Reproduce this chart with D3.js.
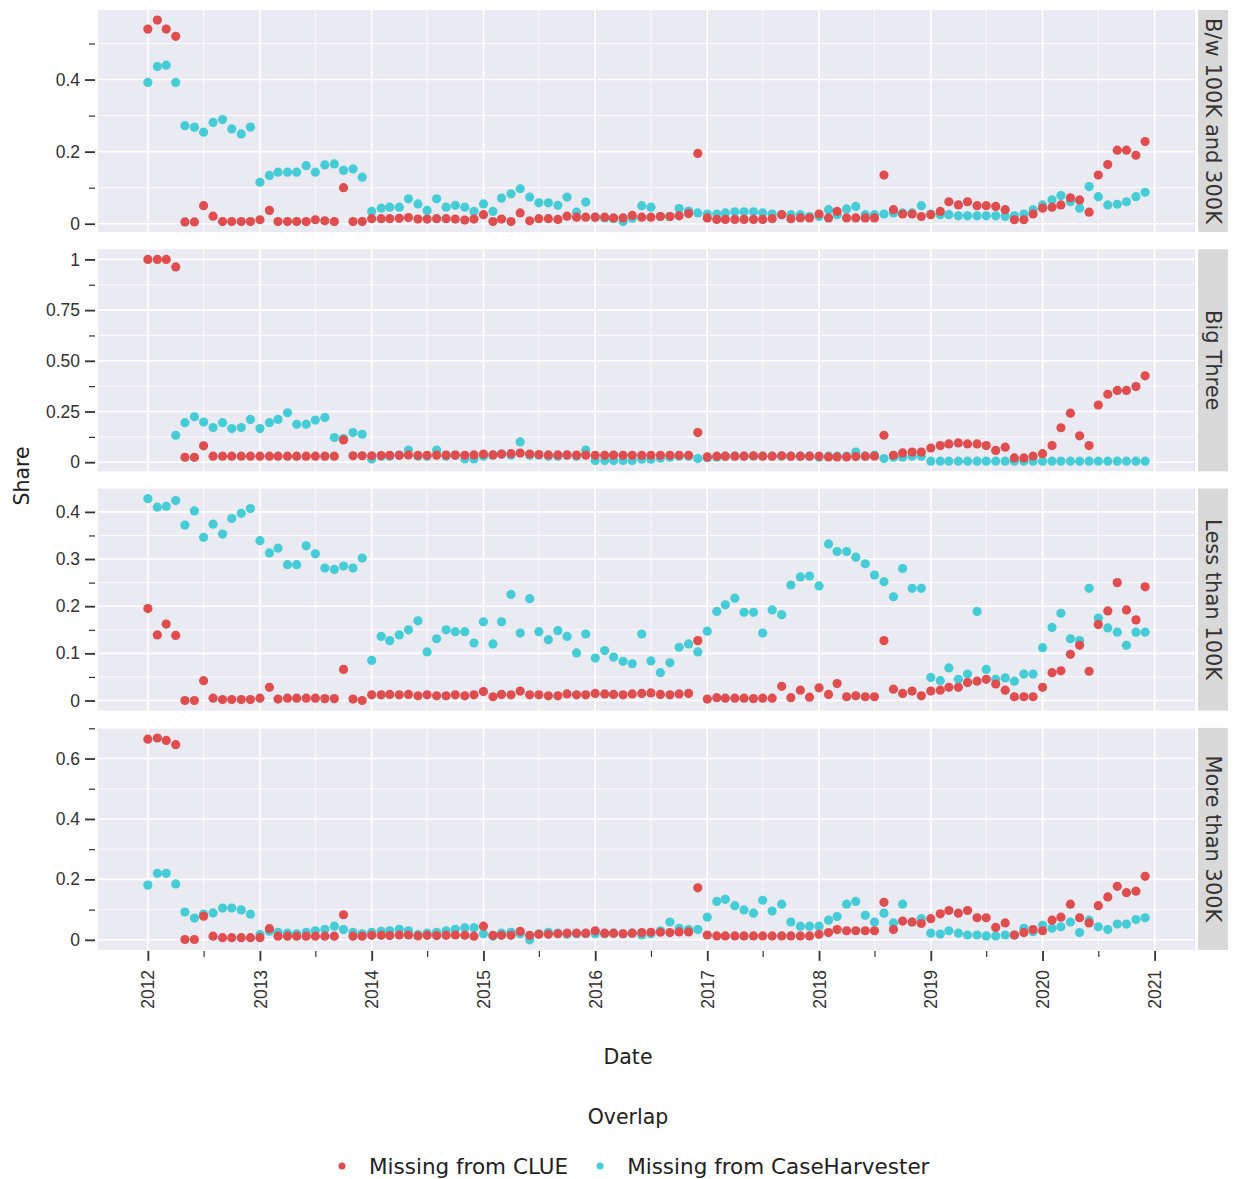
<!DOCTYPE html>
<html>
<head>
<meta charset="utf-8">
<title>Share missing by overlap</title>
<script src="https://cdn.jsdelivr.net/npm/d3@7"></script>
<style>
    body { margin: 0; background: #fff; }
    svg { font-family: "DejaVu Sans", sans-serif; }
    .axis text { font-size: 17.5px; fill: #333; }
    .axis line { stroke: #333; }
    .axis path { display: none; }
    .strip-label { font-size: 21px; fill: #333; }
    .graphLabels { font-size: 20.5px; fill: #222; }
    .legend-label { font-size: 21.5px; fill: #222; }
</style>
</head>
<body>
<div id="chart"></div>
<script>

// ---- data (monthly, 2012-01 .. 2020-12) ----
var months = d3.timeMonth.range(new Date(2012, 0, 1), new Date(2021, 0, 1));

var facetNames = ["B/w 100K and 300K", "Big Three", "Less than 100K", "More than 300K"];
var seriesNames = ["Missing from CLUE", "Missing from CaseHarvester"];

var clueBw = [0.54, 0.565, 0.54, 0.52, 0.005, 0.005, 0.05, 0.021, 0.006, 0.006, 0.006, 0.006,
    0.011, 0.037, 0.006, 0.006, 0.006, 0.006, 0.011, 0.008, 0.006, 0.10, 0.006, 0.006,
    0.014, 0.014, 0.014, 0.015, 0.017, 0.013, 0.013, 0.014, 0.014, 0.013, 0.010, 0.013,
    0.025, 0.006, 0.013, 0.006, 0.030, 0.008, 0.014, 0.014, 0.012, 0.021, 0.018, 0.018,
    0.018, 0.018, 0.016, 0.016, 0.023, 0.018, 0.018, 0.020, 0.020, 0.022, 0.028, 0.195,
    0.016, 0.012, 0.012, 0.012, 0.012, 0.012, 0.012, 0.014, 0.025, 0.014, 0.016, 0.016,
    0.027, 0.016, 0.034, 0.016, 0.016, 0.016, 0.016, 0.135, 0.039, 0.027, 0.027, 0.020,
    0.025, 0.034, 0.061, 0.052, 0.061, 0.050, 0.050, 0.048, 0.039, 0.011, 0.011, 0.027,
    0.043, 0.046, 0.052, 0.072, 0.066, 0.032, 0.135, 0.164, 0.204, 0.204, 0.190, 0.228];

var harvBw = [0.392, 0.436, 0.440, 0.392, 0.272, 0.268, 0.254, 0.281, 0.289, 0.263, 0.249, 0.268,
    0.115, 0.134, 0.143, 0.143, 0.143, 0.161, 0.143, 0.163, 0.166, 0.148, 0.152, 0.129,
    0.034, 0.043, 0.046, 0.046, 0.069, 0.055, 0.037, 0.069, 0.046, 0.051, 0.046, 0.034,
    0.055, 0.034, 0.071, 0.083, 0.097, 0.074, 0.058, 0.058, 0.051, 0.074, 0.032, 0.060,
    0.018, 0.016, 0.014, 0.006, 0.015, 0.050, 0.046, 0.020, 0.020, 0.042, 0.035, 0.030,
    0.027, 0.027, 0.030, 0.033, 0.033, 0.033, 0.030, 0.027, 0.025, 0.025, 0.025, 0.020,
    0.020, 0.039, 0.025, 0.041, 0.048, 0.025, 0.025, 0.027, 0.030, 0.030, 0.030, 0.050,
    0.027, 0.025, 0.025, 0.022, 0.022, 0.022, 0.022, 0.022, 0.020, 0.022, 0.027, 0.039,
    0.052, 0.066, 0.078, 0.061, 0.043, 0.103, 0.075, 0.052, 0.054, 0.061, 0.075, 0.087];

var clueBig = [1, 1, 1, 0.963, 0.024, 0.024, 0.081, 0.030, 0.030, 0.030, 0.030, 0.030,
    0.030, 0.030, 0.030, 0.030, 0.030, 0.030, 0.030, 0.030, 0.030, 0.110, 0.032, 0.032,
    0.032, 0.033, 0.034, 0.034, 0.036, 0.034, 0.034, 0.035, 0.035, 0.035, 0.034, 0.036,
    0.040, 0.036, 0.040, 0.042, 0.045, 0.040, 0.038, 0.036, 0.036, 0.036, 0.035, 0.035,
    0.034, 0.034, 0.035, 0.034, 0.034, 0.034, 0.034, 0.034, 0.034, 0.034, 0.034, 0.146,
    0.026, 0.030, 0.030, 0.030, 0.030, 0.032, 0.030, 0.030, 0.032, 0.030, 0.030, 0.030,
    0.030, 0.026, 0.026, 0.026, 0.028, 0.030, 0.030, 0.133, 0.034, 0.046, 0.050, 0.050,
    0.070, 0.082, 0.090, 0.095, 0.090, 0.090, 0.082, 0.058, 0.074, 0.021, 0.021, 0.030,
    0.042, 0.082, 0.170, 0.242, 0.130, 0.082, 0.282, 0.335, 0.354, 0.354, 0.373, 0.426];

var harvBig = [null, null, null, 0.133, 0.195, 0.224, 0.198, 0.171, 0.195, 0.166, 0.171, 0.211,
    0.166, 0.195, 0.211, 0.244, 0.187, 0.187, 0.208, 0.220, 0.122, 0.117, 0.146, 0.138,
    0.016, 0.030, 0.030, 0.035, 0.060, 0.030, 0.030, 0.060, 0.030, 0.035, 0.016, 0.016,
    0.030, 0.035, 0.040, 0.035, 0.100, 0.035, 0.035, 0.030, 0.030, 0.035, 0.030, 0.060,
    0.008, 0.008, 0.008, 0.008, 0.008, 0.015, 0.015, 0.020, 0.025, 0.030, 0.030, 0.018,
    0.022, 0.025, 0.030, 0.030, 0.030, 0.030, 0.030, 0.030, 0.030, 0.030, 0.030, 0.030,
    0.025, 0.030, 0.030, 0.030, 0.050, 0.030, 0.035, 0.018, 0.025, 0.025, 0.030, 0.030,
    0.005, 0.005, 0.005, 0.005, 0.005, 0.005, 0.005, 0.005, 0.005, 0.005, 0.005, 0.005,
    0.005, 0.005, 0.005, 0.005, 0.005, 0.005, 0.005, 0.005, 0.005, 0.005, 0.005, 0.005];

var clueLess = [0.195, 0.139, 0.162, 0.138, 0.000, 0.000, 0.042, 0.005, 0.002, 0.002, 0.002, 0.002,
    0.005, 0.028, 0.003, 0.005, 0.005, 0.005, 0.005, 0.004, 0.004, 0.066, 0.003, 0.000,
    0.012, 0.012, 0.013, 0.012, 0.013, 0.010, 0.012, 0.010, 0.010, 0.012, 0.010, 0.012,
    0.019, 0.008, 0.013, 0.012, 0.020, 0.012, 0.012, 0.010, 0.010, 0.014, 0.012, 0.012,
    0.015, 0.014, 0.013, 0.012, 0.014, 0.015, 0.016, 0.013, 0.012, 0.014, 0.015, 0.127,
    0.003, 0.006, 0.005, 0.005, 0.005, 0.004, 0.005, 0.005, 0.030, 0.006, 0.022, 0.007,
    0.027, 0.013, 0.036, 0.008, 0.010, 0.008, 0.008, 0.127, 0.024, 0.015, 0.020, 0.010,
    0.020, 0.022, 0.028, 0.028, 0.038, 0.041, 0.045, 0.035, 0.022, 0.008, 0.008, 0.008,
    0.028, 0.059, 0.063, 0.098, 0.117, 0.062, 0.161, 0.190, 0.250, 0.192, 0.171, 0.241];

var harvLess = [0.428, 0.410, 0.412, 0.424, 0.372, 0.402, 0.346, 0.374, 0.353, 0.386, 0.397, 0.407,
    0.339, 0.313, 0.323, 0.288, 0.288, 0.328, 0.311, 0.281, 0.278, 0.285, 0.281, 0.302,
    0.085, 0.136, 0.127, 0.139, 0.150, 0.169, 0.103, 0.131, 0.150, 0.146, 0.146, 0.122,
    0.167, 0.120, 0.167, 0.225, 0.143, 0.216, 0.146, 0.129, 0.148, 0.136, 0.101, 0.141,
    0.090, 0.106, 0.092, 0.083, 0.078, 0.141, 0.084, 0.059, 0.080, 0.113, 0.120, 0.103,
    0.147, 0.189, 0.203, 0.217, 0.187, 0.187, 0.143, 0.192, 0.182, 0.245, 0.262, 0.264,
    0.243, 0.332, 0.316, 0.316, 0.304, 0.290, 0.266, 0.252, 0.220, 0.280, 0.238, 0.238,
    0.049, 0.042, 0.069, 0.045, 0.056, 0.189, 0.066, 0.045, 0.048, 0.041, 0.056, 0.056,
    0.112, 0.155, 0.185, 0.131, 0.127, 0.238, 0.175, 0.154, 0.145, 0.117, 0.145, 0.145];

var clueMore = [0.664, 0.668, 0.660, 0.646, 0.001, 0.001, 0.078, 0.012, 0.007, 0.007, 0.007, 0.007,
    0.007, 0.037, 0.012, 0.012, 0.012, 0.012, 0.012, 0.012, 0.012, 0.083, 0.012, 0.012,
    0.015, 0.015, 0.014, 0.016, 0.016, 0.013, 0.015, 0.014, 0.015, 0.016, 0.015, 0.012,
    0.045, 0.015, 0.015, 0.015, 0.028, 0.015, 0.018, 0.018, 0.020, 0.022, 0.022, 0.022,
    0.030, 0.022, 0.022, 0.020, 0.022, 0.024, 0.025, 0.025, 0.024, 0.026, 0.026, 0.172,
    0.016, 0.013, 0.013, 0.013, 0.013, 0.013, 0.013, 0.013, 0.013, 0.013, 0.013, 0.013,
    0.018, 0.024, 0.034, 0.030, 0.030, 0.030, 0.030, 0.124, 0.034, 0.062, 0.059, 0.054,
    0.070, 0.086, 0.097, 0.088, 0.097, 0.073, 0.073, 0.041, 0.056, 0.016, 0.024, 0.034,
    0.030, 0.065, 0.075, 0.118, 0.073, 0.056, 0.113, 0.142, 0.177, 0.156, 0.161, 0.210];

var harvMore = [0.181, 0.220, 0.220, 0.185, 0.092, 0.072, 0.085, 0.089, 0.105, 0.105, 0.099, 0.085,
    0.017, 0.028, 0.025, 0.022, 0.020, 0.025, 0.030, 0.035, 0.045, 0.034, 0.025, 0.020,
    0.025, 0.028, 0.030, 0.035, 0.030, 0.017, 0.022, 0.025, 0.030, 0.035, 0.040, 0.040,
    0.020, 0.012, 0.022, 0.025, 0.020, 0.000, 0.020, 0.025, 0.022, 0.018, 0.020, 0.020,
    0.020, 0.020, 0.022, 0.020, 0.022, 0.016, 0.020, 0.030, 0.059, 0.038, 0.034, 0.034,
    0.075, 0.127, 0.134, 0.113, 0.099, 0.088, 0.131, 0.095, 0.118, 0.059, 0.045, 0.045,
    0.045, 0.065, 0.077, 0.118, 0.127, 0.081, 0.059, 0.088, 0.056, 0.118, 0.059, 0.070,
    0.022, 0.019, 0.030, 0.022, 0.016, 0.016, 0.013, 0.013, 0.016, 0.016, 0.038, 0.027,
    0.048, 0.038, 0.043, 0.059, 0.024, 0.065, 0.043, 0.034, 0.052, 0.052, 0.067, 0.073];

// y tick values and their labels, one list per facet
var yTicksBw = [0, 0.2, 0.4];
var yLabelsBw = ["0", "0.2", "0.4"];
var yTicksBig = [0, 0.25, 0.5, 0.75, 1];
var yLabelsBig = ["0", "0.25", "0.50", "0.75", "1"];
var yTicksLess = [0, 0.1, 0.2, 0.3, 0.4];
var yLabelsLess = ["0", "0.1", "0.2", "0.3", "0.4"];
var yTicksMore = [0, 0.2, 0.4, 0.6];
var yLabelsMore = ["0", "0.2", "0.4", "0.6"];

var xYears = d3.range(2012, 2022);

// ---- layout ----
var seriesColors = ["#df4d4f", "#45ccd6"];
var width = 1233, height = 1179;
var margin = { top: 10, left: 98 };
var panelW = 1097, panelH = 222, panelStep = 239.3;
var stripGap = 3, stripW = 30;

var svg = d3.select("#chart").append("svg")
    .attr("width", width)
    .attr("height", height);

// shared date scale, expanded by 5% on each side
var xPad = (months[months.length - 1] - months[0]) * 0.05;
var x = d3.scaleTime()
    .domain([new Date(+months[0] - xPad), new Date(+months[months.length - 1] + xPad)])
    .range([0, panelW]);

var majorDates = xYears.map(function(y){ return new Date(y, 0, 1); });
var minorDates = xYears.map(function(y){ return new Date(y, 6, 1); })
    .filter(function(d){ return d >= x.domain()[0] && d <= x.domain()[1]; });


/*
 * FacetPanel - one small multiple
 */

FacetPanel = function(_index, _name, _clue, _harv, _ticks, _labels){
    this.index = _index;
    this.name = _name;
    this.clue = _clue;
    this.harv = _harv;
    this.ticks = _ticks;
    this.labels = _labels;
    this.initVis();
}

FacetPanel.prototype.initVis = function(){
    var vis = this;

    vis.top = margin.top + vis.index * panelStep;

    vis.g = svg.append("g")
        .attr("transform", "translate(" + margin.left + "," + vis.top + ")");

    vis.g.append("rect")
        .attr("width", panelW)
        .attr("height", panelH)
        .attr("fill", "#eaeaf2");

    // strip on the right
    vis.g.append("rect")
        .attr("x", panelW + stripGap)
        .attr("width", stripW)
        .attr("height", panelH)
        .attr("fill", "#d9d9d9");

    vis.g.append("text")
        .attr("class", "strip-label")
        .attr("transform", "translate(" + (panelW + stripGap + stripW / 2) + "," + (panelH / 2) + ") rotate(90)")
        .attr("text-anchor", "middle")
        .attr("dominant-baseline", "central")
        .text(vis.name);

    vis.y = d3.scaleLinear().range([panelH, 0]);

    vis.wrangleData();
}

FacetPanel.prototype.wrangleData = function(){
    var vis = this;

    vis.displayData = [];
    // CaseHarvester first so the CLUE points sit on top
    [[vis.harv, 1], [vis.clue, 0]].forEach(function(pair){
        pair[0].forEach(function(v, i){
            if (v != null) {
                vis.displayData.push({ date: months[i], share: v, series: pair[1] });
            }
        });
    });

    var ext = d3.extent(vis.displayData, function(d){ return d.share; });
    var pad = (ext[1] - ext[0]) * 0.05;
    vis.y.domain([ext[0] - pad, ext[1] + pad]);

    var step = vis.ticks[1] - vis.ticks[0];
    vis.minorTicks = vis.ticks.map(function(t){ return t + step / 2; })
        .filter(function(t){ return t <= vis.y.domain()[1]; });

    vis.updateVis();
}

FacetPanel.prototype.updateVis = function(){
    var vis = this;

    // grid
    vis.g.selectAll(".hminor").data(vis.minorTicks).enter().append("line")
        .attr("class", "hminor")
        .attr("x1", 0).attr("x2", panelW)
        .attr("y1", function(d){ return vis.y(d); })
        .attr("y2", function(d){ return vis.y(d); })
        .attr("stroke", "#fff").attr("stroke-width", 0.8);

    vis.g.selectAll(".vminor").data(minorDates).enter().append("line")
        .attr("class", "vminor")
        .attr("x1", function(d){ return x(d); })
        .attr("x2", function(d){ return x(d); })
        .attr("y1", 0).attr("y2", panelH)
        .attr("stroke", "#fff").attr("stroke-width", 0.8);

    vis.g.selectAll(".hmajor").data(vis.ticks).enter().append("line")
        .attr("class", "hmajor")
        .attr("x1", 0).attr("x2", panelW)
        .attr("y1", function(d){ return vis.y(d); })
        .attr("y2", function(d){ return vis.y(d); })
        .attr("stroke", "#fff").attr("stroke-width", 1.6);

    vis.g.selectAll(".vmajor").data(majorDates).enter().append("line")
        .attr("class", "vmajor")
        .attr("x1", function(d){ return x(d); })
        .attr("x2", function(d){ return x(d); })
        .attr("y1", 0).attr("y2", panelH)
        .attr("stroke", "#fff").attr("stroke-width", 1.6);

    // points
    vis.g.selectAll(".dot")
        .data(vis.displayData)
        .enter().append("circle")
        .attr("class", "dot")
        .attr("cx", function(d){ return x(d.date); })
        .attr("cy", function(d){ return vis.y(d.share); })
        .attr("r", 4.6)
        .attr("fill", function(d){ return seriesColors[d.series]; });

    // y axis (major + minor ticks)
    var labels = vis.labels;
    vis.g.append("g")
        .attr("class", "axis")
        .attr("transform", "translate(-3,0)")
        .call(d3.axisLeft(vis.y).tickValues(vis.ticks).tickSize(10).tickPadding(5)
            .tickFormat(function(d, i){ return labels[i]; }))
        .selectAll("line").attr("stroke-width", 1.8);

    vis.g.append("g")
        .attr("class", "axis")
        .attr("transform", "translate(-3,0)")
        .call(d3.axisLeft(vis.y).tickValues(vis.minorTicks).tickSize(6).tickFormat(""))
        .selectAll("line").attr("stroke-width", 1.2);
}


var panelData = [
    [clueBw, harvBw, yTicksBw, yLabelsBw],
    [clueBig, harvBig, yTicksBig, yLabelsBig],
    [clueLess, harvLess, yTicksLess, yLabelsLess],
    [clueMore, harvMore, yTicksMore, yLabelsMore]
];

var panels = facetNames.map(function(name, i){
    return new FacetPanel(i, name, panelData[i][0], panelData[i][1], panelData[i][2], panelData[i][3]);
});

// x axis under the last panel
var bottom = margin.top + 3 * panelStep + panelH;

var xAxisG = svg.append("g")
    .attr("class", "axis")
    .attr("transform", "translate(" + margin.left + "," + (bottom + 1) + ")");

xAxisG.append("g")
    .call(d3.axisBottom(x).tickValues(minorDates).tickSize(6).tickFormat(""))
    .selectAll("line").attr("stroke-width", 1.2);

var xMajor = xAxisG.append("g")
    .call(d3.axisBottom(x).tickValues(majorDates).tickSize(10).tickFormat(d3.timeFormat("%Y")));

xMajor.selectAll("line").attr("stroke-width", 1.8);
xMajor.selectAll("text")
    .attr("transform", "rotate(-90)")
    .attr("x", -19)
    .attr("y", 0)
    .attr("dy", "0.35em")
    .attr("text-anchor", "end");

// axis titles
svg.append("text")
    .attr("class", "graphLabels")
    .attr("x", 628)
    .attr("y", 1064)
    .attr("text-anchor", "middle")
    .text("Date");

svg.append("text")
    .attr("class", "graphLabels")
    .attr("transform", "translate(29," + (margin.top + (3 * panelStep + panelH) / 2 - 4) + ") rotate(-90)")
    .attr("text-anchor", "middle")
    .text("Share");

// legend
svg.append("text")
    .attr("class", "graphLabels")
    .attr("x", 628)
    .attr("y", 1124)
    .attr("text-anchor", "middle")
    .text("Overlap");

var legendX = 342;
seriesNames.forEach(function(name, i){
    svg.append("circle")
        .attr("cx", legendX)
        .attr("cy", 1166)
        .attr("r", 3.5)
        .attr("fill", seriesColors[i]);

    var t = svg.append("text")
        .attr("class", "legend-label")
        .attr("x", legendX + 27)
        .attr("y", 1166)
        .attr("dy", "0.35em")
        .text(name);

    legendX += 27 + t.node().getComputedTextLength() + 32;
});

</script>
</body>
</html>
